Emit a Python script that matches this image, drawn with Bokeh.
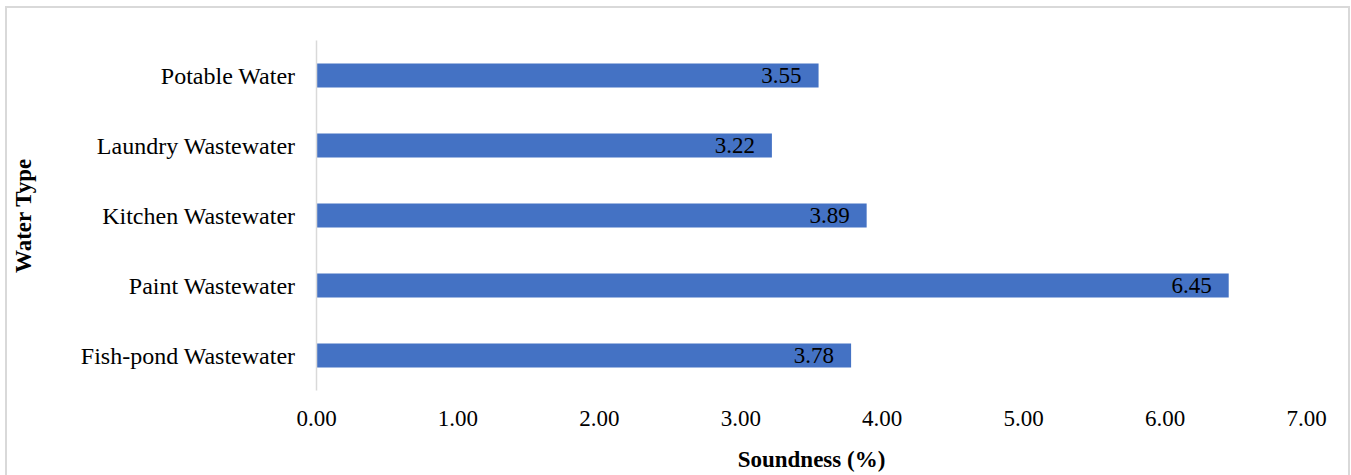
from bokeh.plotting import figure
from bokeh.models import ColumnDataSource, LabelSet, FixedTicker, NumeralTickFormatter, Range1d, InlineStyleSheet
from bokeh.embed import file_html
from bokeh.resources import INLINE

categories = ["Fish-pond Wastewater", "Paint Wastewater", "Kitchen Wastewater", "Laundry Wastewater", "Potable Water"]
values = [3.78, 6.45, 3.89, 3.22, 3.55]
labels = ["3.78", "6.45", "3.89", "3.22", "3.55"]
x_ticks = [0, 1, 2, 3, 4, 5, 6, 7]

FONT = "Liberation Serif"

src = ColumnDataSource(dict(cat=categories, val=values, lab=labels))

p = figure(width=1351, height=475, y_range=categories, x_range=Range1d(0, 7),
           output_backend="svg", toolbar_location=None,
           min_border_left=316, min_border_right=45, min_border_top=40, min_border_bottom=85)
p.y_range.range_padding = 0
p.outline_line_color = None
p.xgrid.visible = False
p.ygrid.visible = False

p.hbar(y="cat", right="val", left=0, height=0.34, source=src, color="#4472C4", line_color=None)

lbl = LabelSet(x="val", y="cat", text="lab", source=src, x_offset=-17, text_align="right",
               text_baseline="middle", text_font=FONT, text_font_size="23px", text_color="black")
p.add_layout(lbl)

p.xaxis.ticker = FixedTicker(ticks=x_ticks)
p.xaxis.formatter = NumeralTickFormatter(format="0.00")
p.xaxis.axis_line_color = None
p.xaxis.major_tick_line_color = None
p.xaxis.minor_tick_line_color = None
p.xaxis.major_label_text_font = FONT
p.xaxis.major_label_text_font_size = "23px"
p.xaxis.major_label_text_color = "black"
p.xaxis.major_label_standoff = 14
p.xaxis.axis_label = "Soundness (%)"
p.xaxis.axis_label_text_font = FONT
p.xaxis.axis_label_text_font_style = "bold"
p.xaxis.axis_label_text_font_size = "23px"
p.xaxis.axis_label_text_color = "black"
p.xaxis.axis_label_standoff = 18

p.yaxis.axis_line_color = "#d9d9d9"
p.yaxis.axis_line_width = 1.5
p.yaxis.major_tick_line_color = None
p.yaxis.minor_tick_line_color = None
p.yaxis.major_label_text_font = FONT
p.yaxis.major_label_text_font_size = "24px"
p.yaxis.major_label_text_color = "black"
p.yaxis.major_label_standoff = 15
p.yaxis.axis_label = "Water Type"
p.yaxis.axis_label_text_font = FONT
p.yaxis.axis_label_text_font_style = "bold"
p.yaxis.axis_label_text_font_size = "23px"
p.yaxis.axis_label_text_color = "black"
p.yaxis.axis_label_standoff = 42

p.stylesheets = [InlineStyleSheet(css=""":host { position: relative; }
:host::after { content: ''; position: absolute; left: 5px; top: 6px; width: 1345px; height: 480px;
 border: 2px solid #d9d9d9; pointer-events: none; box-sizing: border-box; }""")]

open("out.html", "w").write(file_html(p, INLINE))
